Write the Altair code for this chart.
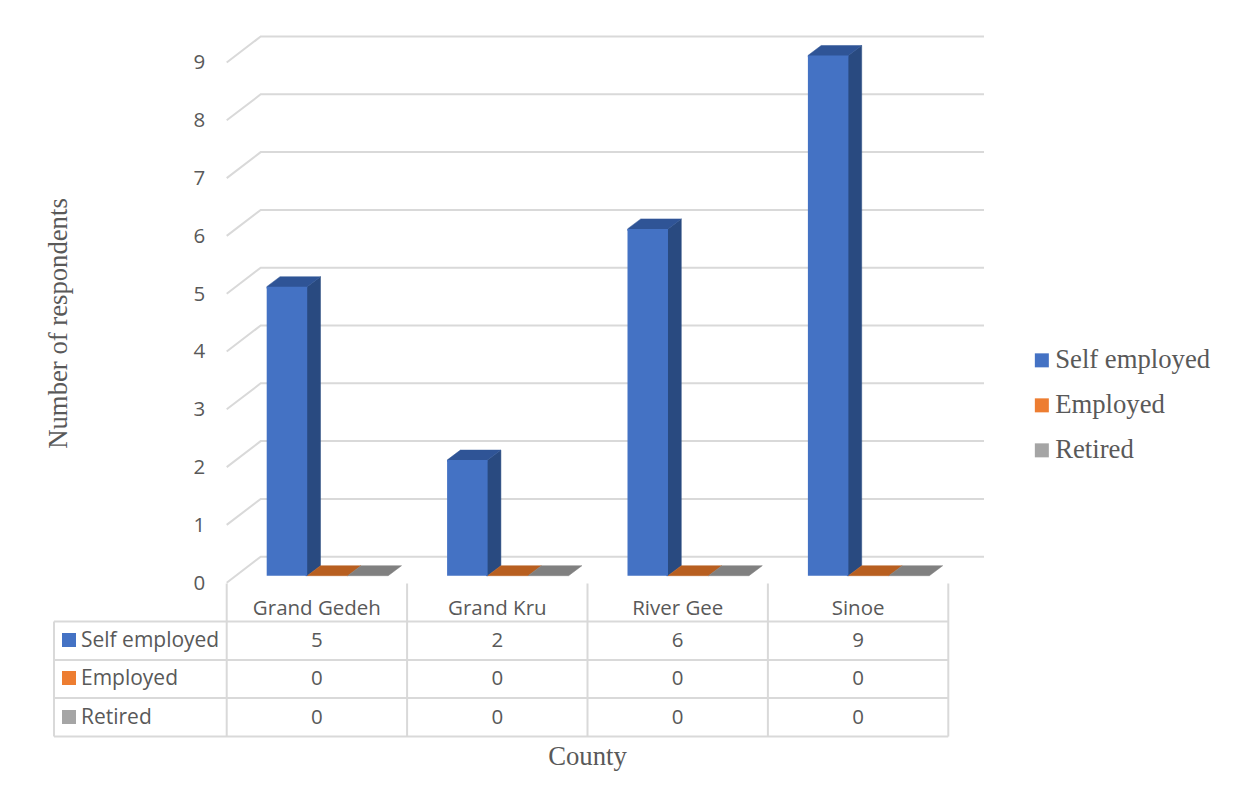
import altair as alt
import pandas as pd

counties = ["Grand Gedeh", "Grand Kru", "River Gee", "Sinoe"]
series = ["Self employed", "Employed", "Retired"]
self_employed = [5, 2, 6, 9]
employed = [0, 0, 0, 0]
retired = [0, 0, 0, 0]
values_by_series = [self_employed, employed, retired]
front_colors = ["#4472C4", "#ED7D31", "#A5A5A5"]
side_colors = ["#294A80", "#9E5320", "#6E6E6E"]
top_colors = ["#2F5496", "#B85F20", "#808080"]

# page geometry of the plot (reference pixels)
PX0, PY0 = 226.7, 582.7      # value 0 / first category edge, front of the floor
UX, UY = 180.4, 57.8         # pixels per category / per respondent
MARGIN = 8

def vx(px):
    return (px - PX0) / UX

def vy(py):
    return (PY0 - py) / UY

# projection of the fake 3-D box
WALL_DX, WALL_DY = 34 / UX, 26 / UY
BAR_DX, BAR_DY = 13.3 / UX, 10 / UY
BAR_LEFT = vx(266.7)
BAR_W = 40.5 / UX
BAR_BASE = vy(575.7)
GRID_END = vx(984)
TUCK_X, TUCK_Y = 1.5 / UX, 1.5 / UY   # faces slip slightly behind the front rectangle

GREY = "#595959"
LINE = "#D9D9D9"
SANS = "Open Sans"
SERIF = "Liberation Serif"

xs = alt.Scale(domain=[0, 4], nice=False, zero=False)
ys = alt.Scale(domain=[0, 9], nice=False, zero=False)
x_axis = alt.Axis(
    title="County", labels=False, ticks=False, domain=False, grid=False,
    titleFont=SERIF, titleFontSize=26.7, titleFontWeight="normal", titleColor=GREY,
    titleX=587 - PX0, titleY=757 - PY0, titleAlign="center", titleBaseline="middle",
)
y_axis = alt.Axis(
    title="Number of respondents", values=list(range(10)), format="d",
    ticks=False, domain=False, grid=False, labelPadding=22,
    labelFont=SANS, labelFontSize=20.5, labelColor=GREY, labelOffset=0.5,
    titleFont=SERIF, titleFontSize=26.7, titleFontWeight="normal", titleColor=GREY,
    titleX=58 - PX0, titleY=323 - (PY0 - 9 * UY), titleAngle=270,
    titleAlign="center", titleBaseline="middle",
)
XN = alt.X("x:Q", scale=xs, axis=x_axis, title="County")
YN = alt.Y("y:Q", scale=ys, axis=y_axis, title="Number of respondents")
color_scale = alt.Scale(domain=series, range=front_colors)

# ---------- gridlines
grid_rows = []
for v in range(10):
    grid_rows += [
        {"id": v, "x": 0, "y": v},
        {"id": v, "x": WALL_DX, "y": v + WALL_DY},
        {"id": v, "x": GRID_END, "y": v + WALL_DY},
    ]
grid = alt.Chart(pd.DataFrame(grid_rows)).mark_line(
    color=LINE, strokeWidth=2, clip=False
).encode(x=XN, y=YN, detail="id:N", order="x:Q")

# ---------- bars: front rectangles, side and top parallelograms (closed outlines)
front_rows, face_rows = [], []
for si, (name, vals) in enumerate(zip(series, values_by_series)):
    for ci, val in enumerate(vals):
        x0 = ci + BAR_LEFT + si * BAR_W
        x1 = x0 + BAR_W
        base, top = BAR_BASE, BAR_BASE + val
        front_rows.append({"series": name, "x": x0, "x2": x1, "y": base, "y2": top})
        tuck_x = TUCK_X if val > 0 else 0
        tuck_y = TUCK_Y if val > 0 else 0
        if val > 0:
            outline = [(x1 - tuck_x, base), (x1, base), (x1 + BAR_DX, base + BAR_DY),
                       (x1 + BAR_DX, top + BAR_DY), (x1, top), (x1 - tuck_x, top)]
            for k, (px, py) in enumerate(outline):
                face_rows.append({"id": f"side{si}{ci}", "k": k, "x": px, "y": py,
                                  "tint": side_colors[si]})
        outline = [(x0, top - tuck_y), (x1, top - tuck_y), (x1, top),
                   (x1 + BAR_DX, top + BAR_DY), (x0 + BAR_DX, top + BAR_DY), (x0, top)]
        for k, (px, py) in enumerate(outline):
            face_rows.append({"id": f"top{si}{ci}", "k": k, "x": px, "y": py,
                              "tint": top_colors[si]})

faces_df = pd.DataFrame(face_rows)
face_layers = [
    alt.Chart(faces_df[faces_df["tint"] == c]).mark_line(
        fill=c, stroke=c, strokeWidth=0.5, clip=False
    ).encode(x=XN, y=YN, detail="id:N", order="k:Q")
    for c in side_colors + top_colors
    if (faces_df["tint"] == c).any()
]

fronts = alt.Chart(pd.DataFrame(front_rows)).mark_rect(clip=False).encode(
    x=XN, x2="x2:Q", y=YN, y2="y2:Q",
    color=alt.Color("series:N", scale=color_scale, sort=series, legend=alt.Legend(
        title=None, orient="none", legendX=1028.5 - PX0, legendY=347 - (PY0 - 9 * UY),
        symbolType="square", symbolSize=196, symbolStrokeWidth=0, symbolOpacity=1,
        labelFont=SERIF, labelFontSize=26.7, labelColor=GREY, labelOffset=0,
        rowPadding=17, padding=0, labelLimit=300,
    )),
)

# ---------- data table
ROW_LINES = [vy(621.5), vy(660), vy(698), vy(736.5)]
TABLE_LEFT = vx(54)
table_rules = []
for r in ROW_LINES:
    table_rules.append({"x": TABLE_LEFT, "x2": 4, "y": r, "y2": r})
table_rules.append({"x": TABLE_LEFT, "x2": TABLE_LEFT, "y": ROW_LINES[0], "y2": ROW_LINES[-1]})
for c in range(5):
    table_rules.append({"x": c, "x2": c, "y": vy(583.5), "y2": ROW_LINES[-1]})
rules = alt.Chart(pd.DataFrame(table_rules)).mark_rule(color=LINE, strokeWidth=2, clip=False).encode(
    x=XN, x2="x2:Q", y=YN, y2="y2:Q",
)

ROW_TEXT = [vy(641), vy(679), vy(718)]
cells = [{"x": i + 0.5, "y": vy(609), "t": c} for i, c in enumerate(counties)]
for ry, vals in zip(ROW_TEXT, values_by_series):
    cells += [{"x": i + 0.5, "y": ry, "t": str(v)} for i, v in enumerate(vals)]
cell_text = alt.Chart(pd.DataFrame(cells)).mark_text(
    font=SANS, fontSize=20.5, color=GREY, align="center", baseline="middle", clip=False
).encode(x=XN, y=YN, text="t:N")

row_names = pd.DataFrame({"x": [vx(81)] * 3, "y": ROW_TEXT, "t": series})
row_text = alt.Chart(row_names).mark_text(
    font=SANS, fontSize=21, color=GREY, align="left", baseline="middle", clip=False
).encode(x=XN, y=YN, text="t:N")

swatch_df = pd.DataFrame({"x": [vx(69)] * 3, "y": [vy(640), vy(678), vy(717)], "series": series})
swatches = alt.Chart(swatch_df).mark_square(size=196, opacity=1, clip=False).encode(
    x=XN, y=YN,
    color=alt.Color("series:N", scale=color_scale, sort=series, legend=None),
)

chart = alt.layer(grid, rules, *face_layers, fronts, swatches, cell_text, row_text).properties(
    width=4 * UX,
    height=9 * UY,
    autosize=alt.AutoSizeParams(type="none"),
    padding={"left": PX0 - MARGIN, "top": PY0 - 9 * UY - MARGIN, "right": 275, "bottom": 190},
    background="white",
).configure_view(stroke=None)

chart.save("out.html", embed_options={"renderer": "svg", "actions": False})
